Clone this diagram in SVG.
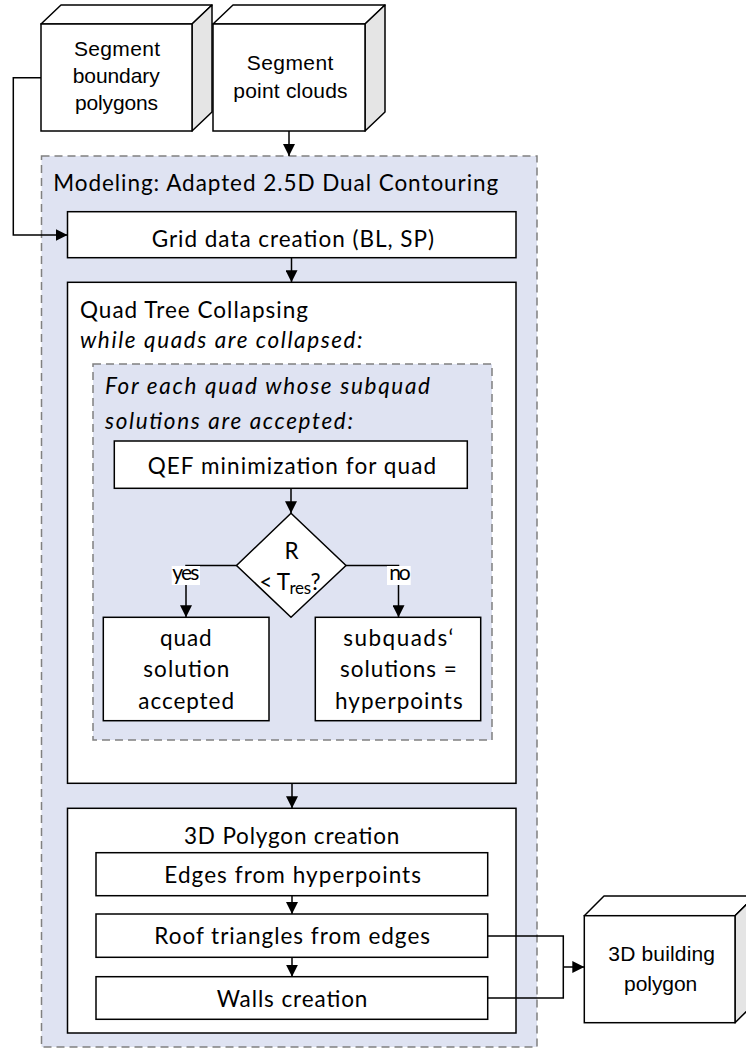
<svg xmlns="http://www.w3.org/2000/svg" width="746" height="1049" viewBox="0 0 746 1049">
<defs>
<marker id="ah" markerUnits="userSpaceOnUse" markerWidth="13" markerHeight="12" refX="12" refY="6" orient="auto">
<path d="M0,0 L12,6 L0,12 Z" fill="#000"/>
</marker>
<style>
.box{fill:#fff;stroke:#000;stroke-width:1.5}
.side{fill:#e5e5e5;stroke:#000;stroke-width:1.5;stroke-linejoin:round}
.top{fill:#fff;stroke:#000;stroke-width:1.5;stroke-linejoin:round}
.dash{fill:#dfe3f2;stroke:#808080;stroke-width:1.5;stroke-dasharray:8 5}
.c{fill:none;stroke:#000;stroke-width:1.5}
.a{marker-end:url(#ah)}
.t{font-family:Lato,"Open Sans",sans-serif;font-size:22.5px;fill:#000}
.i{font-style:italic}
.s{font-family:"Liberation Sans",Arial,sans-serif;font-size:21px;fill:#000}
.sm{font-size:21px}
.lbl{fill:#fff}
</style>
</defs>

<g id="container-modeling">
<rect class="dash" x="41.5" y="156" width="495.5" height="891"/>
<text class="t" x="53.3" y="190.7" textLength="445">Modeling: Adapted 2.5D Dual Contouring</text>
</g>

<g id="node-boundary">
<polygon class="top" points="41,24 61,5 212,5 192,24"/>
<polygon class="side" points="192,24 212,5 212,112 192,131"/>
<rect class="box" x="41" y="24" width="151" height="107"/>
<text class="s" x="74" y="56" textLength="86">Segment</text>
<text class="s" x="72.7" y="83" textLength="87">boundary</text>
<text class="s" x="75" y="110" textLength="83">polygons</text>
</g>

<g id="node-pointclouds">
<polygon class="top" points="213,24 233,5 385,5 365,24"/>
<polygon class="side" points="365,24 385,5 385,112 365,131"/>
<rect class="box" x="213" y="24" width="152" height="107"/>
<text class="s" x="246.7" y="70" textLength="86.7">Segment</text>
<text class="s" x="233.3" y="98" textLength="114.3">point clouds</text>
</g>

<g id="node-grid">
<rect class="box" x="67.5" y="211.7" width="448.5" height="46"/>
<text class="t" x="151.7" y="246.7" textLength="282.3">Grid data creation (BL, SP)</text>
</g>

<g id="node-quadtree">
<rect class="box" x="67.5" y="282.3" width="448.5" height="501"/>
<text class="t" x="80" y="317.7" textLength="228">Quad Tree Collapsing</text>
<text class="t i" x="80" y="348.3" textLength="282.7">while quads are collapsed:</text>
</g>

<g id="container-foreach">
<rect class="dash" x="93" y="364" width="399" height="376"/>
<text class="t i" x="105" y="394" textLength="325">For each quad whose subquad</text>
<text class="t i" x="105" y="429" textLength="248">solutions are accepted:</text>
</g>

<g id="node-qef">
<rect class="box" x="114.3" y="441" width="353" height="47.3"/>
<text class="t" x="147.7" y="474" textLength="288.3">QEF minimization for quad</text>
</g>

<g id="node-decision">
<polygon class="box" points="291,513.3 346,565.5 291,617.3 236.5,565.5"/>
<text class="t" x="291.5" y="559" text-anchor="middle">R</text>
<text class="t" x="259.3" y="590" textLength="61.4">&lt; T<tspan font-size="17" dy="4">res</tspan><tspan dy="-4">?</tspan></text>
</g>

<g id="node-accepted">
<rect class="box" x="103.3" y="617.3" width="165.7" height="103.4"/>
<text class="t" x="160" y="646" textLength="51.7">quad</text>
<text class="t" x="143.3" y="677.3" textLength="86">solution</text>
<text class="t" x="138.3" y="709" textLength="95.7">accepted</text>
</g>

<g id="node-hyperpoints">
<rect class="box" x="315.3" y="617.3" width="165.4" height="103.4"/>
<text class="t" x="343.3" y="646" textLength="110">subquads‘</text>
<text class="t" x="340" y="677.3" textLength="116.7">solutions =</text>
<text class="t" x="335" y="709" textLength="127.7">hyperpoints</text>
</g>

<g id="node-polygon">
<rect class="box" x="67.5" y="808.3" width="448.5" height="224.7"/>
<text class="t" x="184" y="844" textLength="215.3">3D Polygon creation</text>
</g>

<g id="node-edges">
<rect class="box" x="96" y="852.7" width="391.7" height="43"/>
<text class="t" x="164.3" y="883.3" textLength="256.7">Edges from hyperpoints</text>
</g>

<g id="node-roof">
<rect class="box" x="96" y="914" width="391.7" height="43.3"/>
<text class="t" x="154.3" y="944" textLength="275.7">Roof triangles from edges</text>
</g>

<g id="node-walls">
<rect class="box" x="96" y="976.7" width="391.7" height="42.6"/>
<text class="t" x="216.7" y="1006.7" textLength="150.7">Walls creation</text>
</g>

<g id="node-building">
<polygon class="top" points="584.3,915.7 604,896 755,896 735,915.7"/>
<polygon class="side" points="735,915.7 755,896 755,1003 735,1022.7"/>
<rect class="box" x="584.3" y="915.7" width="150.7" height="107"/>
<text class="s" x="608.3" y="960.7" textLength="106.7">3D building</text>
<text class="s" x="624" y="991" textLength="73.3">polygon</text>
</g>

<g id="connectors">
<path class="c a" d="M41,77.7 H13.3 V235 H67.5"/>
<path class="c a" d="M289,131 V156"/>
<path class="c a" d="M291.5,257.7 V282.3"/>
<path class="c a" d="M291,488.3 V513.3"/>
<path class="c a" d="M236.5,565.5 H186 V617.3"/>
<path class="c a" d="M346,565.5 H398.5 V617.3"/>
<path class="c a" d="M292,783.3 V808.3"/>
<path class="c a" d="M292,895.7 V914"/>
<path class="c a" d="M292,957.3 V976.7"/>
<path class="c" d="M487.7,936 H563.3 V998 H487.7"/>
<path class="c a" d="M563.3,967 H584.3"/>
<rect class="lbl" x="171.7" y="566" width="28.3" height="19"/>
<text class="t sm" x="172.3" y="580" textLength="27">yes</text>
<rect class="lbl" x="387" y="566" width="23.7" height="19"/>
<text class="t sm" x="389.3" y="580" textLength="21.3">no</text>
</g>
</svg>
